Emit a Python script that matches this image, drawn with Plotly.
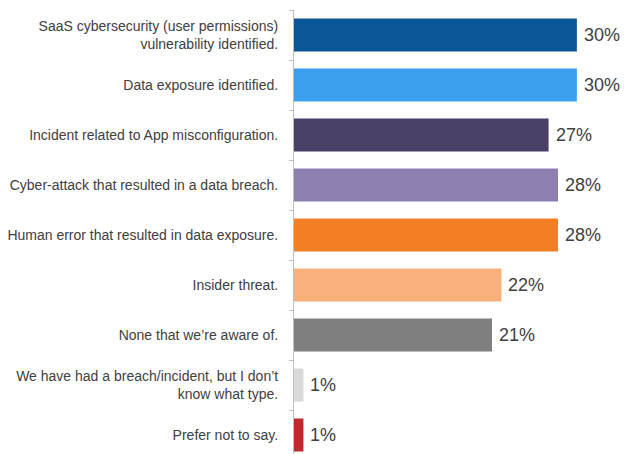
import plotly.graph_objects as go

# Survey responses, top to bottom
categories = [
    "SaaS cybersecurity (user permissions)<br>vulnerability identified.",
    "Data exposure identified.",
    "Incident related to App misconfiguration.",
    "Cyber-attack that resulted in a data breach.",
    "Human error that resulted in data exposure.",
    "Insider threat.",
    "None that we\u2019re aware of.",
    "We have had a breach/incident, but I don\u2019t<br>know what type.",
    "Prefer not to say.",
]
values = [30, 30, 27, 28, 28, 22, 21, 1, 1]
colors = [
    "#0b5697", "#3c9ff0", "#4a3f66", "#8d80b1", "#f47f24",
    "#f9b07a", "#7f7f7f", "#d9d9d9", "#c0282d",
]

FONT = "Liberation Sans, Arial, sans-serif"

fig = go.Figure(
    go.Bar(
        x=values,
        y=categories,
        orientation="h",
        width=0.66,
        marker=dict(color=colors, line=dict(width=0)),
        hoverinfo="x+y",
    )
)

# Percentage labels just past the end of each bar
for cat, v in zip(categories, values):
    fig.add_annotation(
        x=v,
        y=cat,
        text=f"{v}%",
        showarrow=False,
        xanchor="left",
        yanchor="middle",
        xshift=5,
        font=dict(family=FONT, size=18, color="#404040"),
    )

fig.update_layout(
    width=624,
    height=454,
    margin=dict(l=294, r=0, t=10, b=0),
    paper_bgcolor="white",
    plot_bgcolor="white",
    showlegend=False,
    font=dict(family=FONT, size=14, color="#404040"),
    xaxis=dict(
        range=[0, 35],
        visible=False,
        fixedrange=True,
    ),
    yaxis=dict(
        type="category",
        categoryorder="array",
        categoryarray=categories,
        range=[8.38, -0.5],
        autorange=False,
        showline=True,
        linecolor="#bfbfbf",
        linewidth=1,
        ticks="outside",
        tickson="boundaries",
        ticklen=4,
        tickcolor="#bfbfbf",
        ticklabelstandoff=12,
        showgrid=False,
        tickfont=dict(size=14, color="#404040"),
    ),
)

fig.write_html("out.html")
